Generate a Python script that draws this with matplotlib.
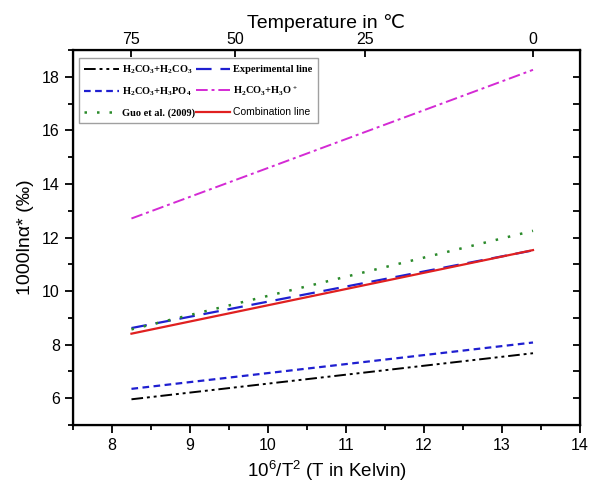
import numpy as np
import matplotlib
matplotlib.use("Agg")
import matplotlib.pyplot as plt
from matplotlib.ticker import MultipleLocator

plt.rcParams["font.family"] = ["Liberation Sans", "DejaVu Sans"]
plt.rcParams["mathtext.default"] = "regular"

# x range: 75 C -> 0 C, expressed as 10^6/T^2
x_ends = [8.25, 13.40]

black_y = [5.96, 7.68]      # H2CO3+H2CO3
blue_short_y = [6.35, 8.08]  # H2CO3+H3PO4
green_y = [8.57, 12.25]     # Guo et al. (2009)
exp_y = [8.62, 11.52]       # Experimental line
magenta_y = [12.71, 18.26]  # H2CO3+H3O+
red_y = [8.41, 11.53]       # Combination line

temps_c = [75, 50, 25, 0]

fig = plt.figure(figsize=(5.9, 4.86), dpi=100)
ax = fig.add_axes([0.1237, 0.1255, 0.859, 0.7716])

l1, = ax.plot(x_ends, black_y, color="black", lw=1.4, dashes=(6, 2, 1.5, 2, 1.5, 2))
l2, = ax.plot(x_ends, exp_y, color="#1f1fd0", lw=1.6, dashes=(7, 4))
l3, = ax.plot(x_ends, blue_short_y, color="#1f1fd0", lw=1.6, dashes=(3, 2))
l4, = ax.plot(x_ends, magenta_y, color="#d42ad4", lw=1.4, dashes=(6, 2, 1.5, 2))
l5, = ax.plot(x_ends, green_y, color="#2a8a2a", lw=1.8, dashes=(1, 4))
l6, = ax.plot(x_ends, red_y, color="#e02020", lw=1.6)

ax.set_xlim(7.5, 14)
ax.set_ylim(5, 19)
ax.xaxis.set_major_locator(MultipleLocator(1))
ax.xaxis.set_minor_locator(MultipleLocator(0.5))
ax.yaxis.set_major_locator(MultipleLocator(2))
ax.yaxis.set_minor_locator(MultipleLocator(1))
for s in ax.spines.values():
    s.set_linewidth(1.6)

ax.set_xlabel("10$^6$/T$^2$ (T in Kelvin)", fontsize=13.5, labelpad=4)
ax.set_ylabel("1000lnα* (‰)", fontsize=14, labelpad=6)

# right-side ticks point inward
axr = ax.twinx()
axr.set_ylim(ax.get_ylim())
axr.yaxis.set_major_locator(MultipleLocator(1))
axr.tick_params(axis="y", direction="in", length=5, width=1.3, labelright=False)

ax2 = ax.twiny()
ax2.set_xlim(ax.get_xlim())
ax2.set_xticks([1e6 / (t + 273.15) ** 2 for t in temps_c])
ax2.set_xticklabels([str(t) for t in temps_c])
ax2.tick_params(axis="x", labelsize=11.5, width=1.3, length=5, direction="in", pad=2)
ax2.set_xlabel("Temperature in ℃", fontsize=14, labelpad=3)

ax.tick_params(which="both", labelsize=11.5, width=1.3)
ax.tick_params(which="major", length=6)
ax.tick_params(which="minor", length=3.5)

handles = [l1, l3, l5, l2, l4, l6]
labels = ["H$_2$CO$_3$+H$_2$CO$_3$", "H$_2$CO$_3$+H$_3$PO$_4$", "Guo et al. (2009)",
          "Experimental line", "H$_2$CO$_3$+H$_3$O$^+$", "Combination line"]
leg = ax2.legend(handles, labels, ncol=2, loc="upper left", bbox_to_anchor=(0.012, 0.978),
                 prop={"family": "Liberation Serif", "weight": "bold", "size": 7.5},
                 frameon=True, fancybox=False, edgecolor="#888888", handlelength=3.3,
                 columnspacing=0.1, handletextpad=0.3, borderaxespad=0.0, labelspacing=0.95,
                 borderpad=0.5)
leg.get_frame().set_linewidth(1.0)
leg.get_texts()[5].set_fontfamily("Liberation Sans")
leg.get_texts()[5].set_fontweight("normal")

fig.savefig("out.png", dpi=100)
